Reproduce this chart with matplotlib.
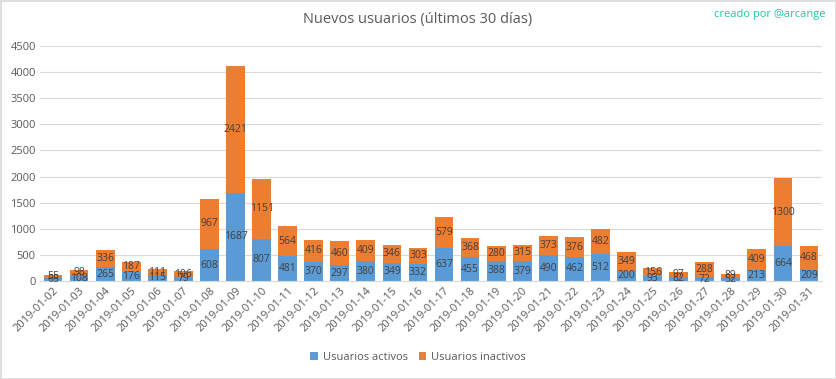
import matplotlib
matplotlib.use("Agg")
import matplotlib.pyplot as plt
import numpy as np

dates = ["2019-01-%02d" % d for d in range(2, 32)]
activos = [65, 108, 265, 176, 115, 79, 608, 1687, 807, 481, 370, 297, 380, 349, 332,
           637, 455, 388, 379, 490, 462, 512, 200, 93, 82, 72, 52, 213, 664, 209]
inactivos = [55, 98, 336, 187, 111, 106, 967, 2421, 1151, 564, 416, 460, 409, 346, 303,
             579, 368, 280, 315, 373, 376, 482, 349, 156, 97, 288, 89, 409, 1300, 468]
yticks = [0, 500, 1000, 1500, 2000, 2500, 3000, 3500, 4000, 4500]

plt.rcParams['font.family'] = ['Open Sans', 'DejaVu Sans']

fig = plt.figure(figsize=(8.36, 3.79), dpi=100)
ax = fig.add_axes([40/836, 98/379, 782/836, 235/379])

blue = '#5B9BD5'
orange = '#ED7D31'
x = np.arange(len(dates))
b1 = ax.bar(x, activos, width=0.72, color=blue, label='Usuarios activos', zorder=2)
b2 = ax.bar(x, inactivos, width=0.72, bottom=activos, color=orange, label='Usuarios inactivos', zorder=2)
ax.bar_label(b1, labels=[str(v) for v in activos], label_type='center', fontsize=7.5, color='#404040')
ax.bar_label(b2, labels=[str(v) for v in inactivos], label_type='center', fontsize=7.5, color='#404040')

ax.set_xlim(-0.5, len(dates) - 0.5)
ax.set_ylim(0, 4500)
ax.set_yticks(yticks)
ax.set_yticklabels([str(v) for v in yticks], fontsize=8, color='#595959')
ax.set_xticks(x)
ax.set_xticklabels(dates, rotation=45, ha='right', rotation_mode='anchor', fontsize=8, color='#595959')
ax.tick_params(length=0, pad=3)
ax.yaxis.grid(True, color='#D9D9D9', linewidth=0.8, zorder=0)
for s in ['top', 'right', 'left']:
    ax.spines[s].set_visible(False)
ax.spines['bottom'].set_color('#D9D9D9')
ax.set_axisbelow(True)

fig.text(0.5, 1 - 20/379, 'Nuevos usuarios (últimos 30 días)', ha='center', va='center',
         fontsize=10.5, color='#595959')
fig.text(1 - 10/836, 1 - 15/379, 'creado por @arcange', ha='right', va='center',
         fontsize=8, color='#1FC8A0')

fig.legend(handles=[b1, b2], loc='center', bbox_to_anchor=(0.5, 1 - 357/379), ncol=2,
           frameon=False, fontsize=8, handlelength=0.7, handleheight=0.7, columnspacing=1.0,
           handletextpad=0.4, labelcolor='#595959')

border = plt.Rectangle((0.5/836, 0.5/379), 1 - 1/836, 1 - 1/379, transform=fig.transFigure,
                       fill=False, edgecolor='#D9D9D9', linewidth=1.2)
fig.patches.append(border)

fig.savefig('out.png', dpi=100, facecolor='white')
